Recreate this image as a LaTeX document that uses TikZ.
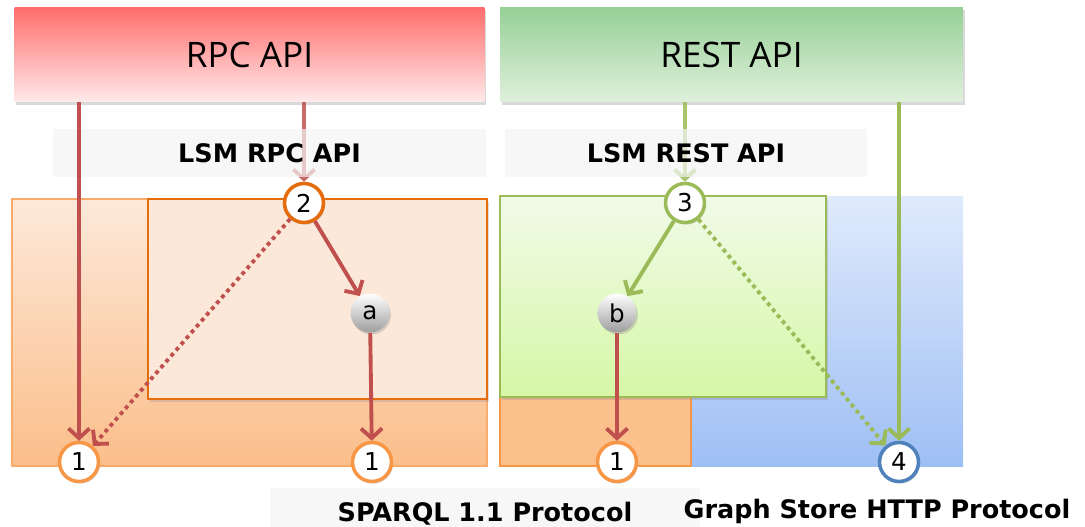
\documentclass[tikz,border=0pt]{standalone}
\usepackage{fontspec}
\setmainfont{DejaVu Sans}
\newfontfamily\apifont{Open Sans}
\usetikzlibrary{arrows.meta,positioning,shadows}

\definecolor{rpcred}{HTML}{C0504D}
\definecolor{restgreen}{HTML}{9BBB59}
\definecolor{lsmorange}{HTML}{F79646}
\definecolor{darkorange}{HTML}{E46C0A}
\definecolor{gsblue}{HTML}{4F81BD}
\definecolor{bandgray}{HTML}{F3F3F3}

\begin{document}
\begin{tikzpicture}[x=0.02cm, y=-0.02cm,
	apibox/.style={rectangle, minimum width=9.4cm, minimum height=1.9cm, font=\apifont\fontsize{20}{24}\selectfont, drop shadow={opacity=0.3, shadow xshift=1pt, shadow yshift=-1.5pt}},
	band/.style={rectangle, fill=bandgray, fill opacity=0.7, text opacity=1, inner sep=0pt, font=\bfseries\fontsize{14.5}{17}\selectfont},
	numpt/.style={circle, draw, fill=white, line width=2pt, minimum size=0.78cm, inner sep=0pt, font=\fontsize{14}{16}\selectfont, drop shadow={opacity=0.3, shadow xshift=0.8pt, shadow yshift=-1.2pt}},
	midpt/.style={circle, top color=white, bottom color=black!38, minimum size=0.78cm, inner sep=0pt, font=\fontsize{14}{16}\selectfont, drop shadow={opacity=0.3, shadow xshift=0.8pt, shadow yshift=-1.2pt}},
	redarr/.style={draw=rpcred, line width=2.2pt, -{Straight Barb[length=5.5pt,width=12pt]}},
	greenarr/.style={draw=restgreen, line width=2.2pt, -{Straight Barb[length=5.5pt,width=12pt]}},
	dots/.style={dash pattern=on 2.2pt off 2.2pt}]

	\useasboundingbox (0,0) rectangle (1085,527);

	% protocol areas
	\draw [draw=lsmorange!80, line width=0.8pt, top color={rgb,255:red,253;green,233;blue,218}, bottom color={rgb,255:red,251;green,190;blue,138}] (12,199) rectangle (487,466);
	\fill [top color={rgb,255:red,224;green,234;blue,252}, bottom color={rgb,255:red,158;green,191;blue,244}] (500,196) rectangle (963,466);
	\draw [draw=lsmorange, line width=0.8pt, fill={rgb,255:red,251;green,192;blue,140}] (500,397) rectangle (691,466);
	\draw [draw=darkorange, line width=1pt, fill={rgb,255:red,252;green,232;blue,216}, drop shadow={opacity=0.25, shadow xshift=1pt, shadow yshift=-1.5pt}] (148,199) rectangle (487,399);
	\draw [draw=restgreen, line width=1pt, top color={rgb,255:red,241;green,251;blue,233}, bottom color={rgb,255:red,214;green,247;blue,166}, drop shadow={opacity=0.25, shadow xshift=1pt, shadow yshift=-1.5pt}] (500,196) rectangle (826,397);

	% API boxes
	\node (rpc) at (249.5,54.5) [apibox, top color={rgb,255:red,255;green,108;blue,108}, bottom color={rgb,255:red,255;green,234;blue,234}] {RPC API};
	\node (rest) at (731.5,54.5) [apibox, minimum width=9.26cm, top color={rgb,255:red,150;green,208;blue,150}, bottom color={rgb,255:red,224;green,240;blue,220}] {REST API};

	% points
	\node (r2) at (304,203) [numpt, draw=darkorange] {2};
	\node (r3) at (685,203) [numpt, draw=restgreen] {3};
	\node (ma) at (370,313) [midpt] {a};
	\node (mb) at (617,313) [midpt] {b};
	\node (s1) at (79,462) [numpt, draw=lsmorange] {1};
	\node (s2) at (372,462) [numpt, draw=lsmorange] {1};
	\node (s3) at (617,462) [numpt, draw=lsmorange] {1};
	\node (g4) at (899,462) [numpt, draw=gsblue] {4};

	\draw [redarr, opacity=0.85] (rpc.south -| r2) -- (r2);
	\draw [greenarr, opacity=0.85] (rest.south -| r3) -- (r3);

	% LSM bands
	\node (lsmrpc) at (269.5,153) [band, minimum width=8.66cm, minimum height=0.98cm] {LSM RPC API};
	\node (lsmrest) at (686,153) [band, minimum width=7.26cm, minimum height=0.98cm] {LSM REST API};

	\draw [redarr] (rpc.south -| s1) -- (s1);
	\draw [redarr] (r2) -- (ma);
	\draw [redarr, dots] (r2) -- (s1);
	\draw [redarr] (ma) -- (s2);
	\draw [greenarr] (rest.south -| g4) -- (g4);
	\draw [greenarr] (r3) -- (mb);
	\draw [greenarr, dots] (r3) -- (g4);
	\draw [redarr] (mb) -- (s3);

	% protocol names
	\node (sparql) at (485,509) [band, minimum width=8.6cm, minimum height=0.84cm, text height=1.6em] {SPARQL 1.1 Protocol};
	\node (gshttp) at (877,511) [band, fill=none] {Graph Store HTTP Protocol};
\end{tikzpicture}
\end{document}
